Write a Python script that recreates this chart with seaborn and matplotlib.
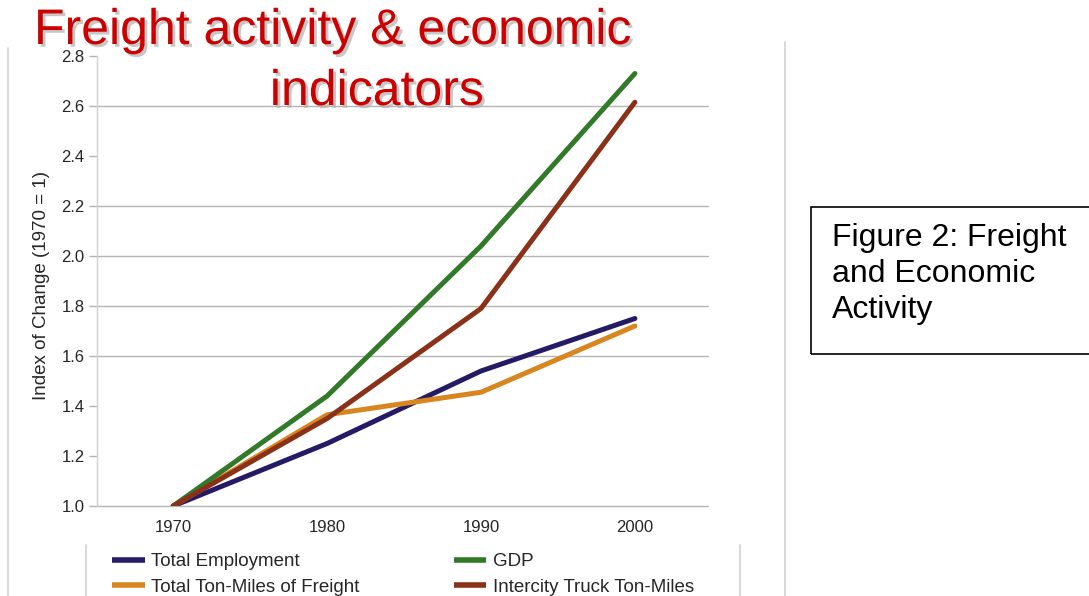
import pandas as pd
import matplotlib
matplotlib.use('Agg')
import matplotlib.pyplot as plt
import matplotlib.patheffects as pe
from matplotlib.lines import Line2D
from matplotlib.patches import Rectangle
import seaborn as sns

# Datos (índice, 1970 = 1)
years = [1970, 1980, 1990, 2000]
employment = [1.0, 1.25, 1.54, 1.75]
ton_miles = [1.0, 1.365, 1.455, 1.72]
gdp = [1.0, 1.44, 2.04, 2.73]
truck = [1.0, 1.35, 1.79, 2.615]

series_names = ['Total Employment', 'Total Ton-Miles of Freight', 'GDP',
                'Intercity Truck Ton-Miles']
series_colors = ['#251a66', '#d8861f', '#327a2a', '#8a3119']
y_ticks = [1.0, 1.2, 1.4, 1.6, 1.8, 2.0, 2.2, 2.4, 2.6, 2.8]
hidden_grid = [1.2, 1.4, 2.4, 2.8]

df = pd.DataFrame({
    'Year': years * 4,
    'Index': employment + ton_miles + gdp + truck,
    'Series': [s for s in series_names for _ in years],
})

sns.set_style('white')
FONT = ['Liberation Sans', 'DejaVu Sans']
plt.rcParams['font.family'] = FONT

W, H = 1089, 596
fig = plt.figure(figsize=(W / 100, H / 100), dpi=100)
ax = fig.add_axes([97 / W, 1 - 506 / H, (708 - 97) / W, (506 - 56) / H])

sns.lineplot(data=df, x='Year', y='Index', hue='Series', hue_order=series_names,
             palette=series_colors, linewidth=3.6, ax=ax, legend=True)

ax.set_xlim(1965.05, 2004.75)
ax.set_ylim(1.0, 2.8)
ax.set_xticks(years)
ax.set_xticklabels([str(y) for y in years])
ax.set_yticks(y_ticks)
ax.set_yticklabels([f'{v:.1f}' for v in y_ticks])
ax.set_xlabel('')
ax.set_ylabel('Index of Change (1970 = 1)', fontsize=13.5)
ax.yaxis.set_label_coords(-0.077, 0.49)

ax.grid(axis='y', color='#b4b4b4', linewidth=1.0)
ax.grid(axis='x', visible=False)
ax.set_axisbelow(True)
for tick, v in zip(ax.yaxis.get_major_ticks(), y_ticks):
    tick.gridline.set_clip_on(False)
    if round(v, 1) in hidden_grid:
        tick.gridline.set_visible(False)
        tick.tick1line.set_visible(False)

for side in ['top', 'right', 'bottom']:
    ax.spines[side].set_visible(False)
ax.spines['left'].set_color('#cfcfcf')
ax.spines['left'].set_linewidth(1.0)

ax.tick_params(axis='y', length=6, width=1, color='#b4b4b4', pad=3,
               labelsize=12, left=True)
ax.tick_params(axis='x', length=0, pad=10, labelsize=12)

# Leyenda abajo en dos columnas
handles, labels = ax.get_legend_handles_labels()
ax.get_legend().remove()
leg = fig.legend(handles, labels, loc='upper left', ncol=2, frameon=False,
                 bbox_to_anchor=(112 / W, 1 - 553 / H), fontsize=13.5,
                 handlelength=1.75, handletextpad=0.35, columnspacing=5.0,
                 labelspacing=0.45, borderaxespad=0, borderpad=0)
for line in leg.get_lines():
    line.set_linewidth(4.0)
    line.set_solid_capstyle('butt')

# Líneas de marco gris
frame_col = '#d2d2d2'
for x, y0 in [(8, 48), (785, 42), (86, 545), (740, 545)]:
    fig.add_artist(Line2D([x / W, x / W], [1 - y0 / H, 0], transform=fig.transFigure,
                          color=frame_col, linewidth=1.2))

# Título
shadow = [pe.withSimplePatchShadow(offset=(2, -2), shadow_rgbFace='#b0b0b0', alpha=0.7)]
fig.text(34 / W, 1 - 44 / H, 'Freight activity & economic', color='#cc0000',
         fontsize=36, ha='left', va='baseline', path_effects=shadow)
fig.text(377 / W, 1 - 105 / H, 'indicators', color='#cc0000',
         fontsize=36, ha='center', va='baseline', path_effects=shadow)

# Cuadro lateral
fig.add_artist(Rectangle((811 / W, 1 - 354 / H), 0.3, 147 / H, transform=fig.transFigure,
                         fill=False, edgecolor='black', linewidth=1.2))
fig.text(832 / W, 1 - 274 / H, 'Figure 2: Freight\nand Economic\nActivity',
         fontsize=23, ha='left', va='center', linespacing=1.28, color='black')

fig.savefig('out.png', dpi=100)
